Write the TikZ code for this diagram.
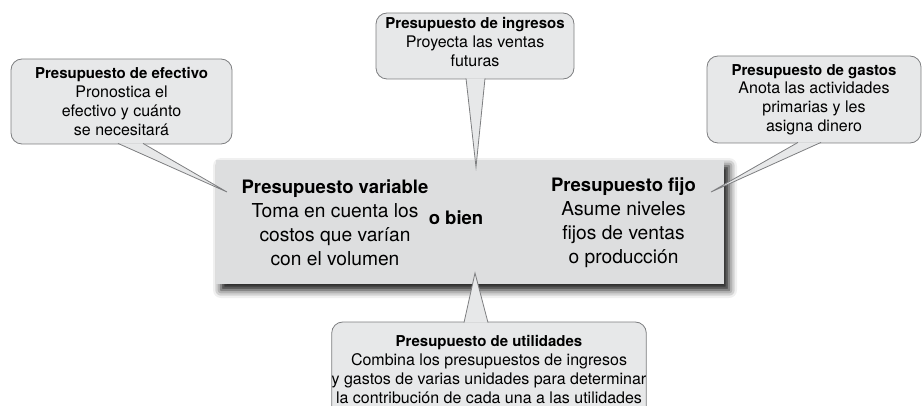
\documentclass[tikz,border=0pt]{standalone}
\usepackage{fontspec}
\setmainfont{TeX Gyre Heros}
\usepackage{tikz}
\usepackage{xcolor}
\usetikzlibrary{shadows.blur}

\definecolor{notefill}{HTML}{E7E8E9}
\definecolor{noteline}{HTML}{7D7E80}
\definecolor{planfill}{HTML}{DDDEDF}
\newcommand{\notehead}[1]{{\fontsize{15}{18.5}\selectfont\bfseries #1}}
\newcommand{\planhead}[1]{{\fontsize{18.5}{24}\selectfont\bfseries #1}}

\begin{document}
\begin{tikzpicture}[
        x=1pt, y=-1pt,
        note/.style={rectangle, rounded corners=11pt, draw=noteline, fill=notefill, line width=0.8pt, align=center, inner sep=0pt, font=\fontsize{16}{18.7}\selectfont},
        plan/.style={rectangle, fill=planfill, minimum width=508pt, minimum height=124pt, blur shadow={shadow xshift=5pt, shadow yshift=-6pt, shadow blur radius=8pt, shadow opacity=95}},
        kind/.style={align=center, inner sep=0pt, font=\fontsize{19.2}{24}\selectfont},
        pointer/.style={draw=noteline, fill=notefill, line width=0.8pt}
    ]
        \useasboundingbox (0,0) rectangle (923,406);
        \clip (0,0) rectangle (923,406);

        % Central box
        \node[plan] (plan) at (470,222) {};
        \node[kind] (variable) at (335,223) {\planhead{Presupuesto variable}\\Toma en cuenta los\\costos que varían\\con el volumen};
        \node[kind] (obien) at (456,218) {\planhead{o bien}};
        \node[kind] (fijo) at (623.5,223) {\planhead{Presupuesto fijo}\\Asume niveles\\fijos de ventas\\o producción};

        % Callouts
        \node[note, minimum width=221pt, minimum height=85pt] (efectivo) at (121.5,101.5) {\notehead{Presupuesto de efectivo}\\Pronostica el\\efectivo y cuánto\\se necesitará};
        \node[note, minimum width=198pt, minimum height=66pt] (ingresos) at (475,46) {\notehead{Presupuesto de ingresos}\\Proyecta las ventas\\futuras\rule[-8pt]{0pt}{0pt}};
        \node[note, minimum width=214pt, minimum height=87pt] (gastos) at (814,99.5) {\notehead{Presupuesto de gastos}\\Anota las actividades\\primarias y les\\asigna dinero};
        \node[note, minimum width=302pt, minimum height=95pt] (utilidades) at (489,369.5) {\notehead{Presupuesto de utilidades}\\Combina los presupuestos de ingresos\\y gastos de varias unidades para determinar\\la contribución de cada una a las utilidades};

        % Pointers
        \coordinate (efectivotip) at (227,192);
        \coordinate (ingresostip) at (476,167);
        \coordinate (gastostip) at (711,192);
        \coordinate (utilidadestip) at (475,273);
        \draw[pointer] ([xshift=-3.5pt,yshift=1pt]efectivo.south) -- (efectivotip) -- ([xshift=21.5pt,yshift=1pt]efectivo.south);
        \draw[pointer] ([xshift=-9pt,yshift=1pt]ingresos.south) -- (ingresostip) -- ([xshift=10pt,yshift=1pt]ingresos.south);
        \draw[pointer] ([xshift=-16pt,yshift=1pt]gastos.south) -- (gastostip) -- ([xshift=7pt,yshift=1pt]gastos.south);
        \draw[pointer] ([xshift=-25pt,yshift=-1pt]utilidades.north) -- (utilidadestip) -- ([xshift=-1pt,yshift=-1pt]utilidades.north);
    \end{tikzpicture}
\end{document}
